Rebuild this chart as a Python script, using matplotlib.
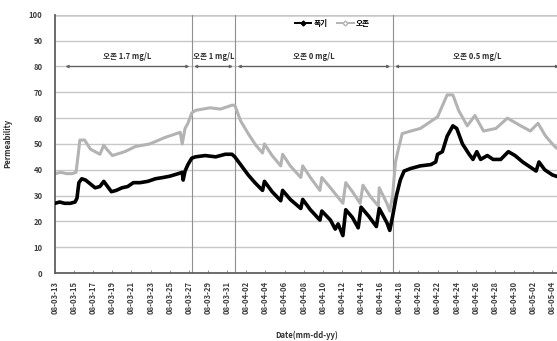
import numpy as np
import matplotlib
matplotlib.use('Agg')
from matplotlib import pyplot as plt
from matplotlib.lines import Line2D

plt.rcParams['font.family'] = ['Noto Sans CJK KR', 'DejaVu Sans']

# date tick labels (every 2 days)
tick_labels = ['08-03-13', '08-03-15', '08-03-17', '08-03-19', '08-03-21', '08-03-23',
               '08-03-25', '08-03-27', '08-03-29', '08-03-31', '08-04-02', '08-04-04',
               '08-04-06', '08-04-08', '08-04-10', '08-04-12', '08-04-14', '08-04-16',
               '08-04-18', '08-04-20', '08-04-22', '08-04-24', '08-04-26', '08-04-28',
               '08-04-30', '08-05-02', '08-05-04']
tick_days = np.arange(len(tick_labels)) * 2

# aeration series (days since start, permeability)
aer_days = [0.0, 0.5, 1.0, 1.6, 2.1, 2.3, 2.5, 2.8, 3.2, 3.7, 4.2, 4.7, 5.1, 5.4, 5.9,
            6.4, 7.0, 7.6, 8.2, 8.9, 9.7, 10.5, 11.3, 12.0, 12.9, 13.3, 13.4, 13.6, 13.9,
            14.3, 14.7, 15.7, 16.8, 17.8, 18.5, 18.8, 19.4, 20.2, 20.9, 21.7, 21.9, 22.7,
            23.6, 23.8, 24.6, 25.7, 25.9, 26.7, 27.7, 27.9, 28.8, 29.3, 29.6, 30.1, 30.4,
            31.1, 31.7, 32.0, 32.8, 33.6, 33.9, 34.7, 35.0, 35.3, 35.7, 36.1, 36.5, 37.2,
            38.2, 39.3, 39.8, 40.0, 40.5, 41.0, 41.6, 42.0, 42.6, 43.3, 43.7, 44.1, 44.5,
            45.2, 45.8, 46.6, 47.4, 48.1, 48.9, 49.7, 50.3, 50.6, 51.2, 52.0, 52.4]
aer_vals = [27, 27.5, 27, 27, 27.5, 29, 35, 36.5, 36, 34.5, 33, 33.5, 35.5, 34, 31.5,
            32, 33, 33.5, 35, 35, 35.5, 36.5, 37, 37.5, 38.5, 39, 36, 39.5, 42,
            44.5, 45, 45.5, 45, 46, 46, 45, 42, 38, 35, 32, 35.5, 31.5,
            28, 32, 28.5, 25, 28.5, 24.5, 20.5, 24, 20.5, 17, 19, 14.5, 24.5,
            21.5, 17.5, 25.5, 22, 18, 25, 19.5, 16.5, 22, 30, 36, 39.5, 40.5,
            41.5, 42, 43, 46, 47, 53, 57, 56, 50, 46, 44, 47, 44,
            45.5, 44, 44, 47, 45.5, 43, 41, 39.5, 43, 40, 38, 37.5]

# ozone series
ozo_days = [0.0, 0.6, 1.2, 1.8, 2.2, 2.4, 2.6, 3.1, 3.7, 4.7, 5.1, 5.4, 6.0, 7.3, 8.4,
            9.9, 11.5, 13.1, 13.3, 13.6, 13.9, 14.3, 14.7, 16.2, 17.3, 18.5, 18.8, 19.4,
            20.2, 21.0, 21.7, 21.9, 22.7, 23.6, 23.8, 24.6, 25.7, 25.9, 26.7, 27.7, 27.9,
            28.8, 30.1, 30.4, 31.1, 31.9, 32.2, 33.0, 33.8, 33.9, 34.7, 35.0, 35.3, 35.6,
            35.9, 36.3, 37.2, 38.2, 40.0, 41.0, 41.6, 42.2, 43.1, 43.9, 44.8, 46.1, 47.3,
            48.7, 49.7, 50.5, 51.3, 52.0, 52.4]
ozo_vals = [38.5, 39, 38.5, 38.5, 39, 45, 51.5, 51.5, 48, 46, 49.5, 48, 45.5, 47, 49,
            50, 52.5, 54.5, 50, 56, 58, 62, 63, 64, 63.5, 65, 65, 59,
            54, 49.5, 46.5, 50, 45.5, 41.5, 46, 41.5, 37, 41.5, 37, 32, 37,
            33, 27, 35, 31.5, 27, 34, 29.5, 26, 33, 27, 24, 30, 43,
            48, 54, 55, 56, 60.5, 69, 69, 63, 57, 61, 55, 56, 60,
            57, 55, 58, 53, 50, 48.5]

# phase boundaries (days) and labels
bound_days = [14.3, 18.85, 35.3]
phase_spans = [(1.1, 14.05), (14.55, 18.6), (19.1, 35.05), (35.55, 52.7)]
phase_labels = ['오존 1.7 mg/L', '오존 1 mg/L', '오존 0 mg/L', '오존 0.5 mg/L']
phase_level = 80

fig = plt.figure(figsize=(5.57, 3.41), dpi=100)
ax = fig.add_axes([0.0987, 0.1994, 0.905, 0.757])

for y in range(10, 101, 10):
    ax.axhline(y, color='#c8c8c8', lw=1.0 if y < 100 else 1.8, zorder=0)
for d in bound_days:
    ax.axvline(d, color='#909090', lw=0.8, zorder=1)

ax.plot(ozo_days, ozo_vals, color='#b3b3b3', lw=2.2, zorder=2)
ax.plot(aer_days, aer_vals, color='black', lw=2.6, zorder=3)

for (a, b), lab in zip(phase_spans, phase_labels):
    ax.annotate('', xy=(a, phase_level), xytext=(b, phase_level),
                arrowprops=dict(arrowstyle='<->', color='#606060', lw=0.9,
                                shrinkA=0, shrinkB=0, mutation_scale=4))
    ax.text((a + b) / 2, phase_level + 2.3, lab, ha='center', va='bottom',
            fontsize=5.5, color='#303030', fontweight='bold')

handles = [Line2D([], [], color='black', lw=1.4, marker='D', markersize=2.5),
           Line2D([], [], color='#b3b3b3', lw=1.4, marker='D', markersize=2.5,
                  mfc='white')]
ax.legend(handles, ['폭기', '오존'], loc='upper center', bbox_to_anchor=(0.55, 1.01),
          ncol=2, frameon=False, handlelength=2.2, columnspacing=1.2,
          handletextpad=0.3, prop={'weight': 'bold', 'size': 5.5})

ax.set_xlim(0, 52.7)
ax.set_ylim(0, 100)
ax.set_yticks(range(0, 101, 10))
ax.set_xticks(tick_days)
ax.set_xticklabels(tick_labels, rotation=90, fontsize=5.5, color='#404040',
                   fontweight='bold')
for t in ax.get_yticklabels():
    t.set_fontweight('bold')
ax.tick_params(axis='y', labelsize=5.5, colors='#404040', length=0, pad=9)
ax.tick_params(axis='x', length=2.5, width=0.6, color='#808080', pad=6, direction='in')
for s in ['top', 'right']:
    ax.spines[s].set_visible(False)
for s in ['left', 'bottom']:
    ax.spines[s].set_color('#606060')
    ax.spines[s].set_linewidth(1.3)

ax.set_ylabel('Permeability', fontsize=5.5, color='#303030', labelpad=12,
              fontweight='bold')
ax.set_xlabel('Date(mm-dd-yy)', fontsize=5.5, color='#303030', labelpad=12,
              fontweight='bold')

fig.savefig('out.png', dpi=100)
